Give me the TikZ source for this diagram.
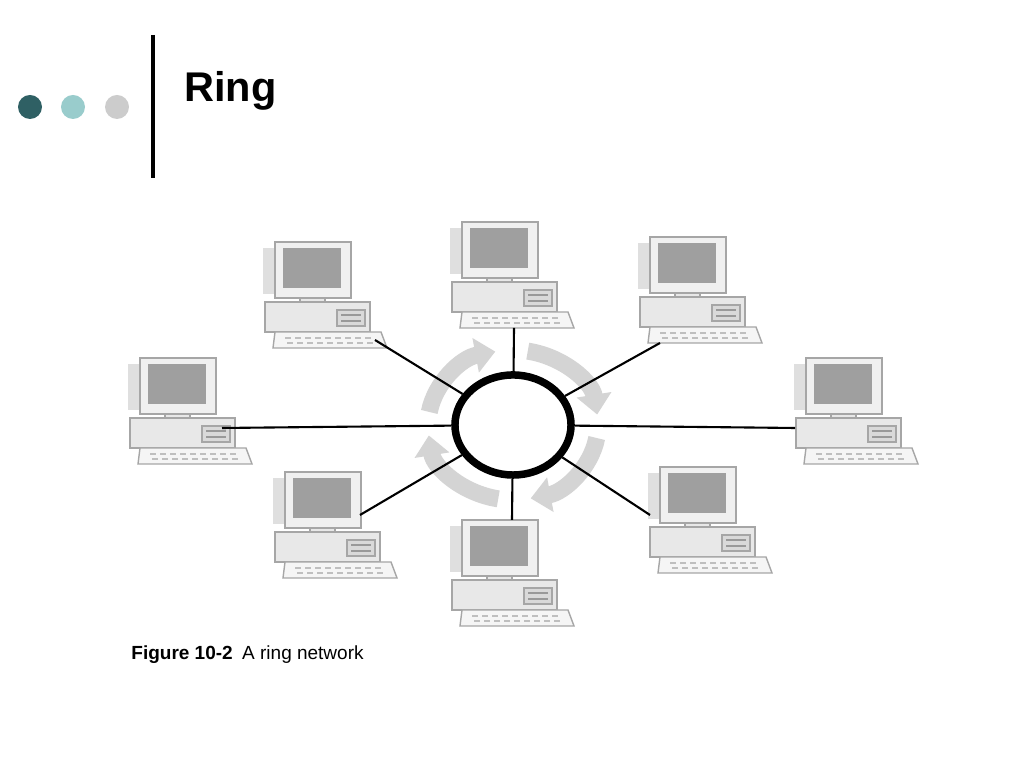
\documentclass[tikz,border=0pt]{standalone}
\usepackage{fontspec}
\setsansfont{Liberation Sans}
\usetikzlibrary{shapes.geometric,arrows.meta,calc}
\definecolor{dotdark}{HTML}{2F6064}
\definecolor{dotmid}{HTML}{99CCCC}
\definecolor{dotlight}{HTML}{CCCCCC}
\definecolor{flowgray}{HTML}{D4D4D4}
\tikzset{
  flow/.style={flowgray,line width=0.17cm,-{Triangle[width=0.34cm,length=0.2cm]}},
  link/.style={black,line width=0.6pt},
  pc/.pic={
    \fill[gray!25] (-12,6) rectangle (0,52);
    \draw[gray!70,fill=gray!12] (0,0) rectangle (76,56);
    \fill[gray!75] (8,6) rectangle (66,46);
    \draw[gray!70,fill=gray!18] (25,56) rectangle (50,62);
    \draw[gray!70,fill=gray!18] (-10,60) rectangle (95,90);
    \draw[gray!70,fill=gray!30] (62,68) rectangle (90,84);
    \draw[gray!80] (66,73) -- (86,73) (66,79) -- (86,79);
    \draw[gray!70,fill=gray!8] (0,90) -- (106,90) -- (112,106) -- (-2,106) -- cycle;
    \foreach \k in {0,...,8} {\fill[gray!50] (10+10*\k,95) rectangle (16+10*\k,97);
                              \fill[gray!50] (12+10*\k,100) rectangle (18+10*\k,102);}
    \coordinate (-port) at (52,106);
  }
}
\begin{document}
\begin{tikzpicture}[x=0.01cm,y=-0.01cm]
\useasboundingbox (0,0) rectangle (1024,768);
% header
\fill[dotdark] (30,107) circle[radius=12];
\fill[dotmid] (73,107) circle[radius=12];
\fill[dotlight] (117,107) circle[radius=12];
\draw[line width=4*0.2845pt] (153,35) -- (153,178);
\node[anchor=base west,font=\sffamily\bfseries\fontsize{11.8}{14}\selectfont] (title) at (172,102) {Ring};
% ring
\node[ellipse,draw,line width=0.075cm,minimum width=1.16cm,minimum height=1.0cm] (ring) at (513,425) {};
\foreach \a/\b in {-170/-102,-80/-8,10/78,100/172}
  \draw[flow] ($(ring.center)+(\a:85 and 75)$) arc[start angle=\a,end angle=\b,x radius=85,y radius=75];
% computers
\pic (top) at (462,222) {pc};
\pic (tl) at (275,242) {pc};
\pic (tr) at (650,237) {pc};
\pic (lf) at (140,358) {pc};
\pic (rt) at (806,358) {pc};
\pic (bl) at (285,472) {pc};
\pic (bt) at (462,520) {pc};
\pic (br) at (660,467) {pc};
\coordinate (lfport) at (222,428);
\coordinate (rtport) at (795,428);
\coordinate (blport) at (360,515);
\coordinate (btport) at (512,520);
\coordinate (brport) at (650,515);
\coordinate (tlport) at (375,340);
\coordinate (trport) at (660,343);
\draw[link] (ring) -- (top-port);
\draw[link] (ring) -- (tlport);
\draw[link] (ring) -- (trport);
\draw[link] (ring) -- (lfport);
\draw[link] (ring) -- (rtport);
\draw[link] (ring) -- (blport);
\draw[link] (ring) -- (btport);
\draw[link] (ring) -- (brport);
% caption
\node[anchor=base west,font=\sffamily\fontsize{5.4}{6}\selectfont] (caption) at (119,660) {\textbf{Figure 10-2}\hspace{0.5em}A ring network};
\end{tikzpicture}
\end{document}
